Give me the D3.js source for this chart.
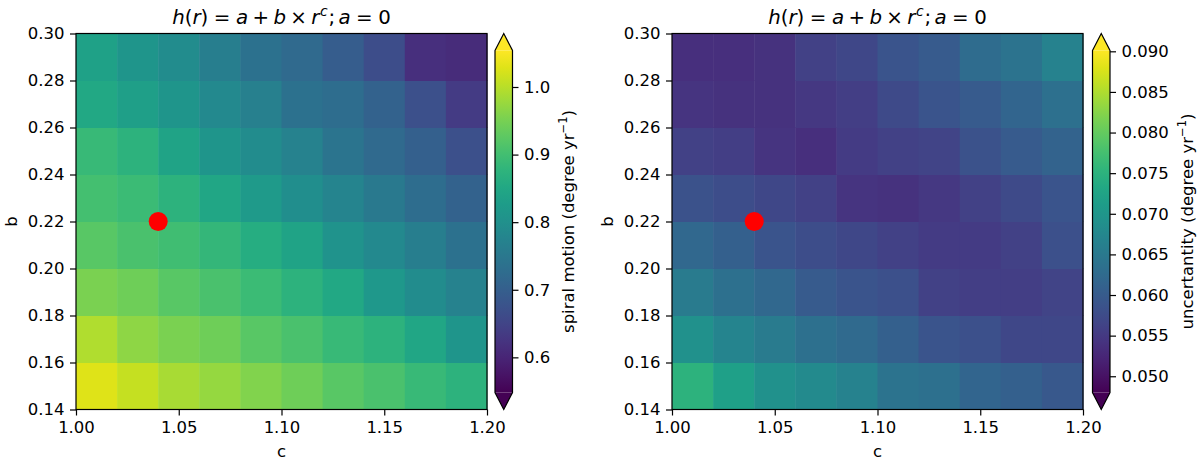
<!DOCTYPE html>
<html><head><meta charset="utf-8">
<script src="https://cdn.jsdelivr.net/npm/d3@7"></script>
<style>
body{margin:0;background:#fff}
svg{display:block}
text{font-family:"DejaVu Sans",sans-serif;fill:#000}
</style>
</head><body>
<svg id="chart" width="1200" height="462"></svg>
<script>
// ---- data ----
const cEdges = [1.00,1.02,1.04,1.06,1.08,1.10,1.12,1.14,1.16,1.18];   // cell left edges
const bEdges = [0.14,0.16,0.18,0.20,0.22,0.24,0.26,0.28];             // cell bottom edges
const cTicks = [1.00,1.05,1.10,1.15,1.20];
const bTicks = [0.14,0.16,0.18,0.20,0.22,0.24,0.26,0.28,0.30];
// spiral motion (degree/yr), rows from b=0.14 upward
const motion = [
  [1.029,1.009,0.988,0.973,0.958,0.943,0.923,0.908,0.888,0.873],
  [0.994,0.968,0.953,0.943,0.923,0.908,0.888,0.873,0.847,0.812],
  [0.953,0.943,0.923,0.908,0.893,0.873,0.852,0.817,0.792,0.772],
  [0.923,0.908,0.898,0.883,0.862,0.842,0.807,0.787,0.762,0.736],
  [0.903,0.893,0.873,0.847,0.822,0.797,0.777,0.752,0.726,0.706],
  [0.888,0.873,0.842,0.812,0.792,0.772,0.742,0.721,0.701,0.671],
  [0.852,0.832,0.812,0.787,0.767,0.736,0.726,0.706,0.671,0.636],
  [0.837,0.812,0.792,0.762,0.736,0.721,0.696,0.666,0.616,0.610]
];
// uncertainty (degree/yr), rows from b=0.14 upward
const uncertainty = [
  [0.0750,0.0717,0.0692,0.0679,0.0666,0.0641,0.0633,0.0616,0.0607,0.0595],
  [0.0692,0.0670,0.0654,0.0633,0.0624,0.0607,0.0590,0.0582,0.0569,0.0569],
  [0.0654,0.0633,0.0620,0.0599,0.0590,0.0582,0.0561,0.0557,0.0557,0.0565],
  [0.0620,0.0607,0.0590,0.0578,0.0569,0.0561,0.0553,0.0553,0.0561,0.0582],
  [0.0586,0.0578,0.0569,0.0561,0.0544,0.0540,0.0548,0.0561,0.0574,0.0590],
  [0.0561,0.0557,0.0544,0.0536,0.0553,0.0561,0.0565,0.0586,0.0599,0.0612],
  [0.0544,0.0540,0.0540,0.0548,0.0557,0.0574,0.0590,0.0599,0.0616,0.0633],
  [0.0536,0.0536,0.0540,0.0561,0.0569,0.0590,0.0599,0.0628,0.0641,0.0666]
];
const best = {c:1.04, b:0.22};
const motionTicks = [0.6,0.7,0.8,0.9,1.0];
const motionRange = [0.548,1.054];
const uncTicks = [0.050,0.055,0.060,0.065,0.070,0.075,0.080,0.085,0.090];
const uncRange = [0.0480,0.0901];
// title pieces: text, style, space before (em)
const titleParts = [["h","it",0],["(","rm",0],["r","it",0],[")","rm",0],["=","rm",0.28],["a","it",0.28],["+","rm",0.22],["b","it",0.22],["\u00d7","rm",0.22],["r","it",0.22],["c","sup",0.03],[";","rm",0.04],["a","it",0.17],["=","rm",0.28],["0","rm",0.28]];

// ---- layout ----
const svg = d3.select("#chart");
const yTop = 33.5, yBot = 409.5, axW = 411;
const fs = 16.5, tfs = 19.8;
const cbW = 17.5, cbTri = 17;

function drawPanel(x0, values, range, cbX, ticks, fmt, cbLabel, cbLabelOff, gid) {
  const x = d3.scaleLinear([1.00,1.20],[x0, x0+axW]);
  const y = d3.scaleLinear([0.14,0.30],[yBot, yTop]);
  const color = d3.scaleSequential(d3.interpolateViridis).domain(range).clamp(true);
  const g = svg.append("g");
  const dc = 0.02, db = 0.02;
  values.forEach((row,i) => row.forEach((v,j) => {
    g.append("rect")
      .attr("x", x(cEdges[j]))
      .attr("y", y(bEdges[i]+db))
      .attr("width", x(cEdges[j]+dc)-x(cEdges[j])+0.5)
      .attr("height", y(bEdges[i])-y(bEdges[i]+db)+0.5)
      .attr("fill", color(v));
  }));
  g.append("circle").attr("cx", x(best.c)).attr("cy", y(best.b)).attr("r", 9.5).attr("fill", "#ff0000");
  g.append("rect").attr("x", x0).attr("y", yTop).attr("width", axW).attr("height", yBot-yTop)
    .attr("fill","none").attr("stroke","#000").attr("stroke-width",1.2);

  const xa = g.append("g").attr("transform",`translate(0,${yBot})`)
    .call(d3.axisBottom(x).tickValues(cTicks).tickFormat(d3.format(".2f")).tickSize(6).tickPadding(5.5));
  const ya = g.append("g").attr("transform",`translate(${x0},0)`)
    .call(d3.axisLeft(y).tickValues(bTicks).tickFormat(d3.format(".2f")).tickSize(6).tickPadding(5.5));
  [xa,ya].forEach(a => {
    a.select(".domain").remove();
    a.selectAll("text").style("font-size", fs+"px").style("font-family","DejaVu Sans");
    a.selectAll("line").attr("stroke","#000").attr("stroke-width",1.2);
  });
  g.append("text").attr("x", x0+axW/2).attr("y", 457).attr("text-anchor","middle")
    .style("font-size", fs+"px").text("c");
  g.append("text").attr("transform",`translate(${x0-59.5},${(yTop+yBot)/2}) rotate(-90)`)
    .attr("text-anchor","middle").style("font-size", fs+"px").text("b");

  // title (math-style)
  const t = g.append("text").attr("x", x0+axW/2).attr("y", 23.5).attr("text-anchor","middle")
    .style("font-size", tfs+"px");
  let raised = false;
  titleParts.forEach(([s,k,sp]) => {
    const ts = t.append("tspan").text(s).attr("dx", (sp*tfs).toFixed(2));
    if (k!=="rm") ts.style("font-style","italic");
    if (k==="sup") { ts.style("font-size",(tfs*0.7)+"px").attr("dy", -8); raised = true; }
    else if (raised) { ts.attr("dy", 8); raised = false; }
  });

  // colorbar
  const cb = svg.append("g");
  const cy = d3.scaleLinear(range, [yBot-cbTri, yTop+cbTri]);
  const grad = svg.append("defs").append("linearGradient").attr("id", gid)
    .attr("x1",0).attr("y1",1).attr("x2",0).attr("y2",0);
  d3.range(0,1.0001,0.05).forEach(s => grad.append("stop").attr("offset", s).attr("stop-color", d3.interpolateViridis(s)));
  cb.append("rect").attr("x", cbX).attr("y", yTop+cbTri).attr("width", cbW).attr("height", yBot-yTop-2*cbTri)
    .attr("fill", `url(#${gid})`);
  cb.append("path").attr("d", `M${cbX},${yTop+cbTri}L${cbX+cbW/2},${yTop}L${cbX+cbW},${yTop+cbTri}Z`).attr("fill", d3.interpolateViridis(1));
  cb.append("path").attr("d", `M${cbX},${yBot-cbTri}L${cbX+cbW/2},${yBot}L${cbX+cbW},${yBot-cbTri}Z`).attr("fill", d3.interpolateViridis(0));
  cb.append("path").attr("d", `M${cbX},${yTop+cbTri}L${cbX+cbW/2},${yTop}L${cbX+cbW},${yTop+cbTri}L${cbX+cbW},${yBot-cbTri}L${cbX+cbW/2},${yBot}L${cbX},${yBot-cbTri}Z`)
    .attr("fill","none").attr("stroke","#000").attr("stroke-width",1.2);
  const ca = cb.append("g").attr("transform",`translate(${cbX+cbW},0)`)
    .call(d3.axisRight(cy).tickValues(ticks).tickFormat(d3.format(fmt)).tickSize(6).tickPadding(5.5));
  ca.select(".domain").remove();
  ca.selectAll("text").style("font-size", fs+"px").style("font-family","DejaVu Sans");
  ca.selectAll("line").attr("stroke","#000").attr("stroke-width",1.2);
  const lt = cb.append("text").attr("transform",`translate(${cbX+cbLabelOff},${(yTop+yBot)/2}) rotate(-90)`)
    .attr("text-anchor","middle").style("font-size", fs+"px");
  lt.append("tspan").text(cbLabel + " (degree yr");
  lt.append("tspan").text("\u22121").style("font-size",(fs*0.7)+"px").attr("dy", -7);
  lt.append("tspan").text(")").attr("dy", 7);
}

drawPanel(76, motion, motionRange, 495, motionTicks, ".1f", "spiral motion", 79, "gradL");
drawPanel(672, uncertainty, uncRange, 1092.5, uncTicks, ".3f", "uncertantity", 100, "gradR");
</script>
</body></html>
